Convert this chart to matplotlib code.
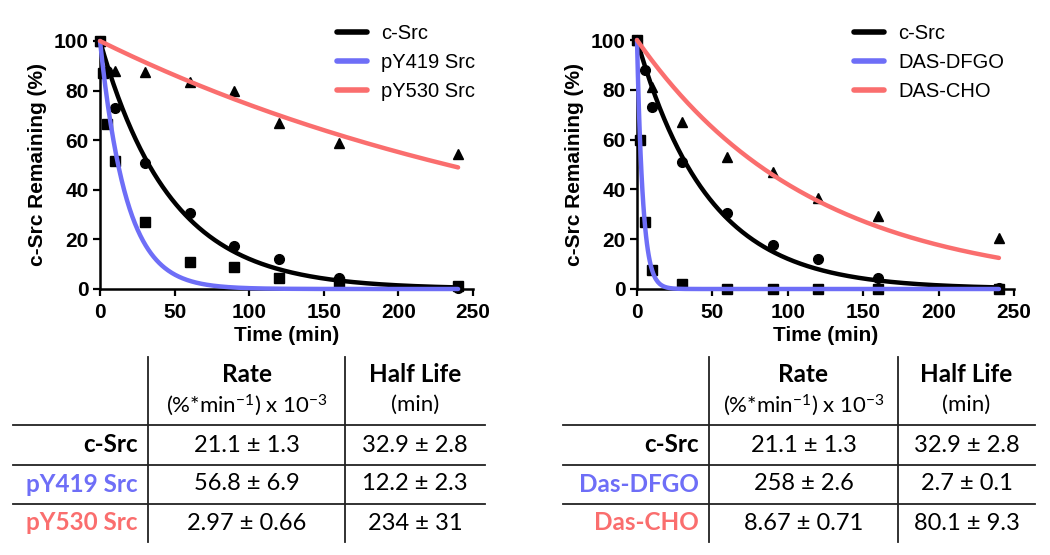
import numpy as np
import matplotlib
matplotlib.use("Agg")
import matplotlib.pyplot as plt

plt.rcParams["font.family"] = ["Liberation Sans", "DejaVu Sans"]
plt.rcParams["mathtext.fontset"] = "custom"
plt.rcParams["mathtext.rm"] = "Lato"

BLACK = "black"
BLUE = "#6E6EF7"
RED = "#FA6E6E"

# time points (min) and % c-Src remaining
t_csrc = [0, 5, 10, 30, 60, 90, 120, 160, 240]
y_csrc = [100, 88, 73, 51, 30.5, 17.5, 12, 4.5, 0.5]

t_py419 = [0, 2, 5, 10, 30, 60, 90, 120, 160, 240]
y_py419 = [100, 87, 66.5, 51.5, 27, 11, 9, 4.5, 3, 1.2]

t_py530 = [0, 10, 30, 60, 90, 120, 160, 240]
y_py530 = [100, 88, 87.5, 83.5, 80, 67, 59, 54.5]

t_dfgo = [0, 2, 5, 10, 30, 60, 90, 120, 160, 240]
y_dfgo = [100, 60, 27, 7.5, 2, 0, 0, 0, 0, 0]

t_cho = [0, 10, 30, 60, 90, 120, 160, 240]
y_cho = [100, 81, 67, 53, 47, 36.5, 29.5, 20.5]

# fitted rates (x 10^-3 per min) and half lives from the tables
left_names = ["c-Src", "pY419 Src", "pY530 Src"]
left_rate = [21.1, 56.8, 2.97]
left_rate_txt = ["21.1 ± 1.3", "56.8 ± 6.9", "2.97 ± 0.66"]
left_half_txt = ["32.9 ± 2.8", "12.2 ± 2.3", "234 ± 31"]

right_legend = ["c-Src", "DAS-DFGO", "DAS-CHO"]
right_names = ["c-Src", "Das-DFGO", "Das-CHO"]
right_rate = [21.1, 258, 8.67]
right_rate_txt = ["21.1 ± 1.3", "258 ± 2.6", "8.67 ± 0.71"]
right_half_txt = ["32.9 ± 2.8", "2.7 ± 0.1", "80.1 ± 9.3"]

colors = [BLACK, BLUE, RED]

W, H = 1050, 555
fig = plt.figure(figsize=(W / 100, H / 100), dpi=100)


def px_axes(x0, x1, y_top, y_bot):
    return fig.add_axes([x0 / W, 1 - y_bot / H, (x1 - x0) / W, (y_bot - y_top) / H])


def panel(ax, pts, rates, labels, leg_x):
    markers = ["o", "s", "^"]
    msize = [7, 6.5, 7]
    for (t, y), m, s in zip(pts, markers, msize):
        ax.plot(t, y, ls="none", marker=m, ms=s, color="black", clip_on=False, zorder=3)
    tt = np.linspace(0, 240, 400)
    handles = []
    for k, c, lab in zip(rates, colors, labels):
        h, = ax.plot(tt, 100 * np.exp(-k * 1e-3 * tt), color=c, lw=3.2,
                     clip_on=False, zorder=4, label=lab, solid_capstyle="round")
        handles.append(h)
    ax.set_xlim(0, 250)
    ax.set_ylim(0, 100)
    ax.set_xticks([0, 50, 100, 150, 200, 250])
    ax.set_yticks([0, 20, 40, 60, 80, 100])
    for s in ["top", "right"]:
        ax.spines[s].set_visible(False)
    for s in ["left", "bottom"]:
        ax.spines[s].set_linewidth(1.8)
    ax.tick_params(length=5, width=1.6, labelsize=15, pad=3)
    ax.tick_params(axis="x", pad=5)
    for lb in ax.get_xticklabels() + ax.get_yticklabels():
        lb.set_fontweight("bold")
    ax.set_xlabel("Time (min)", fontsize=15, fontweight="bold", labelpad=3)
    ax.set_ylabel("c-Src Remaining (%)", fontsize=15, fontweight="bold", labelpad=5)
    leg = ax.legend(handles=handles, loc="upper left", bbox_to_anchor=(leg_x / W, 1 - 24 / H),
                    bbox_transform=fig.transFigure, frameon=False, fontsize=14.5,
                    handlelength=1.5, handletextpad=0.7, labelspacing=0.5, borderpad=0,
                    borderaxespad=0)
    for ln in leg.get_lines():
        ln.set_linewidth(4)


axL = px_axes(100, 473, 41, 289)
panel(axL, [(t_csrc, y_csrc), (t_py419, y_py419), (t_py530, y_py530)],
      left_rate, left_names, 337)

axR = px_axes(637, 1014, 40, 289)
panel(axR, [(t_csrc, y_csrc), (t_dfgo, y_dfgo), (t_cho, y_cho)],
      right_rate, right_legend, 854)

# tables drawn on an overlay in pixel units
ov = fig.add_axes([0, 0, 1, 1])
ov.set_xlim(0, W)
ov.set_ylim(H, 0)
ov.axis("off")

TF = "Lato"


def table(x_left, x_v1, x_v2, x_right, names, rate_txt, half_txt):
    lw = 1.3
    ov.plot([x_v1, x_v1], [357, 542], color="#222222", lw=lw)
    ov.plot([x_v2, x_v2], [357, 542], color="#222222", lw=lw)
    for y in [425, 465, 504]:
        ov.plot([x_left, x_right], [y, y], color="#222222", lw=lw)
    cx1 = (x_v1 + x_v2) / 2
    cx2 = (x_v2 + x_right) / 2
    ov.text(cx1, 375, "Rate", ha="center", va="center", fontsize=17.5,
            fontweight="bold", family=TF)
    ov.text(cx1, 405, r"(%*min$\mathregular{^{-1}}$) x 10$\mathregular{^{-3}}$",
            ha="center", va="center", fontsize=16, family=TF)
    ov.text(cx2, 375, "Half Life", ha="center", va="center", fontsize=17.5,
            fontweight="bold", family=TF)
    ov.text(cx2, 405, "(min)", ha="center", va="center", fontsize=16, family=TF)
    for i, y in enumerate([445, 484, 523]):
        ov.text(x_v1 - 10, y, names[i], ha="right", va="center", fontsize=17.5,
                fontweight="bold", color=colors[i], family=TF)
        ov.text(cx1, y, rate_txt[i], ha="center", va="center", fontsize=17, family=TF)
        ov.text(cx2, y, half_txt[i], ha="center", va="center", fontsize=17, family=TF)


table(13, 148, 345, 485, left_names, left_rate_txt, left_half_txt)
table(563, 709, 898, 1035, right_names, right_rate_txt, right_half_txt)

fig.savefig("out.png", dpi=100)
